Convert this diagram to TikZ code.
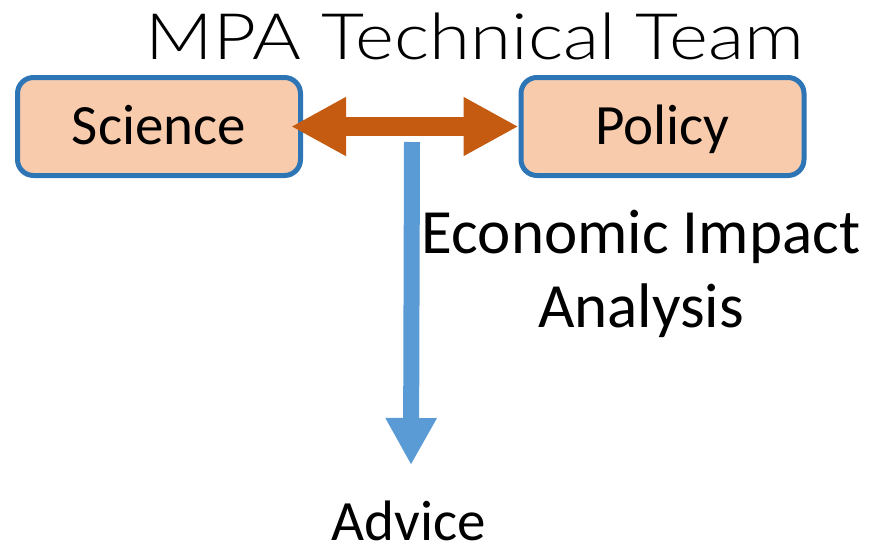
\documentclass[tikz,border=0pt]{standalone}
\usepackage{fontspec}
\setmainfont{Carlito}
\IfFontExistsTF{Lato Light}{\newfontfamily\titlefont{Lato Light}}{\newfontfamily\titlefont{Lato}}
\usetikzlibrary{arrows.meta}
\definecolor{boxline}{HTML}{2E75B6}
\definecolor{boxfill}{HTML}{F8CBAD}
\definecolor{orangearrow}{HTML}{C55A11}
\definecolor{bluearrow}{HTML}{5B9BD5}
\begin{document}
\begin{tikzpicture}[x=1pt,y=-1pt,
  box/.style={draw=boxline, fill=boxfill, line width=5pt, rounded corners=16pt,
    minimum width=283pt, minimum height=98pt, inner sep=0pt,
    font=\fontsize{57}{68}\selectfont, text height=35pt, text depth=0pt},
  bigtext/.style={font=\fontsize{57}{68}\selectfont, inner sep=0pt},
  linkarrow/.style={draw=orangearrow, line width=19pt,
    {Triangle[length=55pt,width=55pt]}-{Triangle[length=55pt,width=55pt]}},
  advicearrow/.style={draw=bluearrow, line width=16pt,
    -{Triangle[length=47pt,width=48pt]}}
]
\useasboundingbox (0,0) rectangle (869,550);
\node[font=\titlefont\fontsize{64}{70}\selectfont, inner sep=0pt, anchor=base] (title) at (475,59) {\scalebox{1.164}[1]{MPA Technical Team}};
\node[box] (science) at (159,126.5) {Science};
\node[box] (policy) at (662.5,126.5) {Policy};
\draw[linkarrow] ([xshift=-12pt]science.east) -- ([xshift=0pt]policy.west);
\coordinate (bstart) at (412,142);
\node[bigtext, anchor=base] (advice) at (409,540) {Advice};
\coordinate (bend) at (411,465);
\draw[advicearrow] (bstart) -- (bend);
\node[font=\fontsize{63}{74}\selectfont, inner sep=0pt, align=center, anchor=base] (eia) at (641,327) {Economic Impact\\Analysis};
\end{tikzpicture}
\end{document}
